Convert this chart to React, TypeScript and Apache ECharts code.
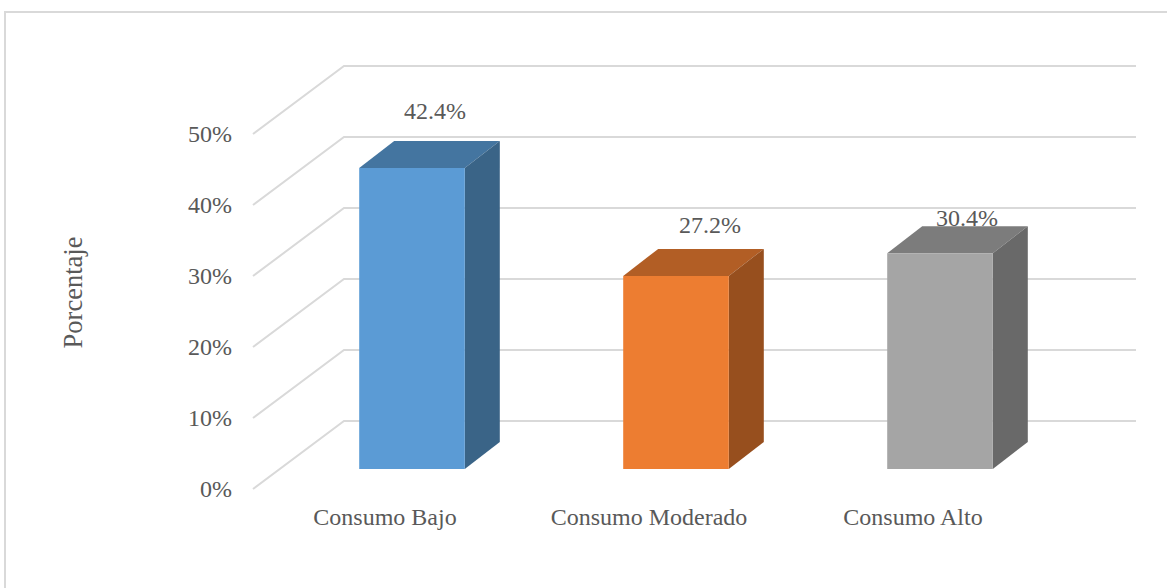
import React, { useEffect, useRef } from "react";
import * as echarts from "echarts";

const categories = ["Consumo Bajo", "Consumo Moderado", "Consumo Alto"];
const percentages = [42.4, 27.2, 30.4];
const percentLabels = ["42.4%", "27.2%", "30.4%"];
const gridTicks = [0, 10, 20, 30, 40, 50];

// front, top and side face of each column
const frontColors = ["#5B9BD5", "#ED7D31", "#A5A5A5"];
const topColors = ["#4475A0", "#B25E25", "#7C7C7C"];
const sideColors = ["#3A6487", "#974F1E", "#696969"];

// hand-placed value labels, relative to the top centre of the front face
const labelNudges = [
  [23, -57],
  [34, -51],
  [27, -35],
];

const FONT = '"Liberation Serif", "Times New Roman", serif';
const TEXT = "#595959";
const LINE = "#D9D9D9";

// perspective of the chart walls and of the columns inside them
const WALL_DX = 91;
const WALL_DY = -68;
const FLOOR_DX = 27;
const FLOOR_DY = -20;
const BAR_DX = 35;
const BAR_DY = -27;

export default function App() {
  const ref = useRef<HTMLDivElement>(null);

  useEffect(() => {
    const chart = echarts.init(ref.current!, null, { renderer: "svg" });
    chart.setOption({
      animation: false,
      backgroundColor: "#FFFFFF",
      grid: { left: 253, top: 134, width: 792, height: 355, containLabel: false },
      xAxis: {
        type: "category",
        data: categories,
        axisLine: { show: false },
        axisTick: { show: false },
        splitLine: { show: false },
        axisLabel: { color: TEXT, fontFamily: FONT, fontSize: 24, margin: 16, interval: 0 },
      },
      yAxis: {
        type: "value",
        min: 0,
        max: 50,
        interval: 10,
        axisLine: { show: false },
        axisTick: { show: false },
        splitLine: { show: false },
        axisLabel: {
          color: TEXT,
          fontFamily: FONT,
          fontSize: 24,
          margin: 21,
          formatter: (v: number) => `${v}%`,
        },
        name: "Porcentaje",
        nameLocation: "middle",
        nameRotate: 90,
        nameGap: 167,
        nameTextStyle: {
          color: TEXT,
          fontFamily: FONT,
          fontSize: 26.5,
          padding: [0, 0, 0, 38],
        },
      },
      graphic: [
        {
          type: "polyline",
          silent: true,
          shape: { points: [[5, 588], [5, 12], [1167, 12]] },
          style: { stroke: LINE, lineWidth: 2, fill: "none" },
        },
      ],
      series: [
        {
          // gridlines running along the side wall and the back wall
          type: "custom",
          silent: true,
          z: 1,
          data: gridTicks.map((t) => [0, t]),
          encode: { x: 0, y: 1 },
          renderItem: (params: any, api: any) => {
            const y = api.coord([0, api.value(1)])[1];
            const left = params.coordSys.x;
            const right = left + params.coordSys.width;
            return {
              type: "polyline",
              shape: {
                points: [
                  [left, y],
                  [left + WALL_DX, y + WALL_DY],
                  [right + WALL_DX, y + WALL_DY],
                ],
              },
              style: { stroke: LINE, lineWidth: 2, fill: "none" },
            };
          },
        },
        {
          // columns, each with its value label painted underneath it
          type: "custom",
          z: 2,
          data: percentages.map((v, i) => [i, v]),
          encode: { x: 0, y: 1 },
          renderItem: (params: any, api: any) => {
            const i = params.dataIndex;
            const [cx, top0] = api.coord([api.value(0), api.value(1)]);
            const base0 = api.coord([api.value(0), 0])[1];
            const half = (api.size([1, 0])[0] * 0.4) / 2;
            const l = cx - half + FLOOR_DX;
            const r = cx + half + FLOOR_DX;
            const top = top0 + FLOOR_DY;
            const base = base0 + FLOOR_DY;
            return {
              type: "group",
              children: [
                {
                  type: "text",
                  style: {
                    text: percentLabels[i],
                    x: cx + FLOOR_DX + labelNudges[i][0],
                    y: top + labelNudges[i][1],
                    align: "center",
                    verticalAlign: "middle",
                    fontFamily: FONT,
                    fontSize: 24,
                    fill: TEXT,
                  },
                },
                {
                  type: "polygon",
                  shape: { points: [[l, top], [r, top], [r + BAR_DX, top + BAR_DY], [l + BAR_DX, top + BAR_DY]] },
                  style: { fill: topColors[i] },
                },
                {
                  type: "polygon",
                  shape: { points: [[r, top], [r + BAR_DX, top + BAR_DY], [r + BAR_DX, base + BAR_DY], [r, base]] },
                  style: { fill: sideColors[i] },
                },
                {
                  type: "rect",
                  shape: { x: l, y: top, width: r - l, height: base - top },
                  style: { fill: frontColors[i] },
                },
              ],
            };
          },
        },
      ],
    });
    return () => chart.dispose();
  }, []);

  return (
    <div
      ref={ref}
      style={{ position: "fixed", left: 0, top: 0, width: 1167, height: 588, background: "#fff" }}
    />
  );
}
